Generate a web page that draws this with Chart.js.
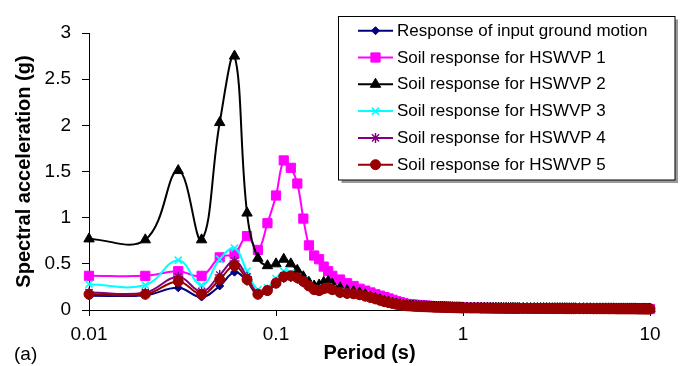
<!DOCTYPE html>
<html>
<head>
<meta charset="utf-8">
<script src="https://cdn.jsdelivr.net/npm/chart.js@4/dist/chart.umd.min.js"></script>
<style>
  html, body { margin: 0; padding: 0; background: #fff; }
  #wrap { width: 680px; height: 366px; position: relative; }
</style>
</head>
<body>
<div id="wrap"><canvas id="c" width="680" height="366"></canvas></div>
<script>
// ---------- DATA ----------
const periods = [
  0.01,0.02,0.03,0.04,0.05,0.06,0.07,0.08,0.09,0.10,
  0.11,0.12,0.13,0.14,0.15,0.16,0.17,0.18,0.19,0.20,
  0.22,0.24,0.26,0.28,0.30,0.32,0.34,0.36,0.38,0.40,0.42,0.44,0.46,0.48,0.50,
  0.52,0.54,0.56,0.58,0.60,0.62,0.64,0.66,0.68,0.70,0.72,0.74,0.76,0.78,0.80,
  0.82,0.84,0.86,0.88,0.90,0.92,0.94,0.96,0.98,1.00,
  1.05,1.10,1.15,1.20,1.25,1.30,1.35,1.40,1.45,1.50,
  1.55,1.60,1.65,1.70,1.75,1.80,1.85,1.90,1.95,2.00,
  2.1,2.2,2.3,2.4,2.5,2.6,2.7,2.8,2.9,3.0,
  3.1,3.2,3.3,3.4,3.5,3.6,3.7,3.8,3.9,4.0,
  4.2,4.4,4.6,4.8,5.0,5.2,5.4,5.6,5.8,6.0,
  6.2,6.4,6.6,6.8,7.0,7.2,7.4,7.6,7.8,8.0,
  8.2,8.4,8.6,8.8,9.0,9.2,9.4,9.6,9.8,10.0
];

const inputMotion = [
  0.155,0.16,0.24,0.14,0.26,0.41,0.31,0.16,0.20,0.28,
  0.34,0.35,0.33,0.29,0.25,0.21,0.20,0.22,0.23,0.21,
  0.18,0.17,0.165,0.155,0.14,0.125,0.11,0.095,0.085,0.075,0.065,0.058,0.052,0.047,0.043,
  0.041,0.039,0.037,0.036,0.035,0.034,0.033,0.032,0.031,0.030,0.029,0.028,0.028,0.027,0.026,
  0.026,0.025,0.025,0.024,0.024,0.023,0.023,0.022,0.022,0.021,
  0.021,0.020,0.020,0.020,0.019,0.019,0.019,0.019,0.018,0.018,
  0.018,0.018,0.017,0.017,0.017,0.017,0.017,0.016,0.016,0.016,
  0.016,0.016,0.015,0.015,0.015,0.015,0.015,0.015,0.014,0.014,
  0.014,0.014,0.014,0.014,0.014,0.013,0.013,0.013,0.013,0.013,
  0.013,0.013,0.013,0.013,0.012,0.012,0.012,0.012,0.012,0.012,
  0.012,0.012,0.011,0.011,0.011,0.011,0.011,0.011,0.011,0.011,
  0.011,0.011,0.010,0.010,0.010,0.010,0.010,0.010,0.010,0.010
];

const hswvp1 = [
  0.37,0.37,0.42,0.37,0.57,0.61,0.80,0.65,0.94,1.24,
  1.62,1.54,1.37,0.99,0.70,0.59,0.55,0.47,0.42,0.37,
  0.33,0.29,0.26,0.23,0.21,0.19,0.17,0.155,0.14,0.125,0.11,0.095,0.085,0.075,0.065,
  0.062,0.059,0.056,0.053,0.050,0.048,0.046,0.044,0.042,0.040,0.038,0.037,0.036,0.035,0.034,
  0.033,0.032,0.031,0.030,0.029,0.029,0.028,0.027,0.026,0.025,
  0.025,0.024,0.024,0.023,0.023,0.022,0.022,0.022,0.021,0.021,
  0.021,0.020,0.020,0.020,0.020,0.019,0.019,0.019,0.019,0.018,
  0.018,0.018,0.018,0.017,0.017,0.017,0.017,0.017,0.016,0.016,
  0.016,0.016,0.016,0.016,0.015,0.015,0.015,0.015,0.015,0.015,
  0.015,0.014,0.014,0.014,0.014,0.014,0.014,0.014,0.013,0.013,
  0.013,0.013,0.013,0.013,0.013,0.013,0.013,0.012,0.012,0.012,
  0.012,0.012,0.012,0.012,0.012,0.012,0.012,0.011,0.011,0.011
];

const hswvp2 = [
  0.77,0.76,1.51,0.76,2.03,2.75,1.05,0.56,0.48,0.50,
  0.55,0.50,0.43,0.36,0.30,0.26,0.27,0.30,0.31,0.28,
  0.24,0.21,0.20,0.185,0.165,0.14,0.125,0.11,0.095,0.085,0.075,0.066,0.058,0.052,0.047,
  0.045,0.043,0.041,0.039,0.037,0.036,0.035,0.034,0.033,0.032,0.031,0.030,0.029,0.029,0.028,
  0.027,0.027,0.026,0.026,0.025,0.025,0.024,0.024,0.023,0.023,
  0.022,0.021,0.021,0.021,0.020,0.020,0.020,0.020,0.019,0.019,
  0.019,0.019,0.018,0.018,0.018,0.018,0.018,0.017,0.017,0.017,
  0.017,0.017,0.016,0.016,0.016,0.016,0.016,0.016,0.015,0.015,
  0.015,0.015,0.015,0.015,0.015,0.014,0.014,0.014,0.014,0.014,
  0.014,0.014,0.014,0.014,0.013,0.013,0.013,0.013,0.013,0.013,
  0.013,0.013,0.012,0.012,0.012,0.012,0.012,0.012,0.012,0.012,
  0.012,0.012,0.011,0.011,0.011,0.011,0.011,0.011,0.011,0.011
];

const hswvp3 = [
  0.28,0.27,0.54,0.27,0.55,0.67,0.42,0.22,0.24,0.34,
  0.42,0.40,0.36,0.32,0.27,0.23,0.22,0.24,0.25,0.23,
  0.20,0.19,0.18,0.17,0.155,0.135,0.12,0.105,0.09,0.08,0.07,0.062,0.055,0.05,0.045,
  0.043,0.041,0.039,0.037,0.036,0.035,0.034,0.033,0.032,0.031,0.030,0.029,0.029,0.028,0.027,
  0.027,0.026,0.026,0.025,0.025,0.024,0.024,0.023,0.023,0.022,
  0.022,0.021,0.021,0.021,0.020,0.020,0.020,0.020,0.019,0.019,
  0.019,0.019,0.018,0.018,0.018,0.018,0.018,0.017,0.017,0.017,
  0.017,0.017,0.016,0.016,0.016,0.016,0.016,0.016,0.015,0.015,
  0.015,0.015,0.015,0.015,0.015,0.014,0.014,0.014,0.014,0.014,
  0.014,0.014,0.014,0.014,0.013,0.013,0.013,0.013,0.013,0.013,
  0.013,0.013,0.012,0.012,0.012,0.012,0.012,0.012,0.012,0.012,
  0.012,0.012,0.011,0.011,0.011,0.011,0.011,0.011,0.011,0.011
];

const hswvp4 = [
  0.19,0.19,0.36,0.20,0.38,0.53,0.36,0.18,0.22,0.30,
  0.37,0.37,0.35,0.31,0.26,0.22,0.21,0.23,0.24,0.22,
  0.19,0.18,0.175,0.165,0.15,0.135,0.12,0.105,0.09,0.08,0.07,0.062,0.055,0.05,0.045,
  0.043,0.041,0.039,0.037,0.036,0.035,0.034,0.033,0.032,0.031,0.030,0.029,0.029,0.028,0.027,
  0.027,0.026,0.026,0.025,0.025,0.024,0.024,0.023,0.023,0.022,
  0.022,0.021,0.021,0.021,0.020,0.020,0.020,0.020,0.019,0.019,
  0.019,0.019,0.018,0.018,0.018,0.018,0.018,0.017,0.017,0.017,
  0.017,0.017,0.016,0.016,0.016,0.016,0.016,0.016,0.015,0.015,
  0.015,0.015,0.015,0.015,0.015,0.014,0.014,0.014,0.014,0.014,
  0.014,0.014,0.014,0.014,0.013,0.013,0.013,0.013,0.013,0.013,
  0.013,0.013,0.012,0.012,0.012,0.012,0.012,0.012,0.012,0.012,
  0.012,0.012,0.011,0.011,0.011,0.011,0.011,0.011,0.011,0.011
];

const hswvp5 = [
  0.17,0.17,0.31,0.17,0.33,0.48,0.33,0.17,0.21,0.29,
  0.36,0.37,0.35,0.31,0.26,0.22,0.21,0.23,0.24,0.22,
  0.19,0.18,0.175,0.165,0.15,0.135,0.12,0.105,0.09,0.08,0.07,0.062,0.055,0.05,0.045,
  0.043,0.041,0.039,0.037,0.036,0.035,0.034,0.033,0.032,0.031,0.030,0.029,0.029,0.028,0.027,
  0.027,0.026,0.026,0.025,0.025,0.024,0.024,0.023,0.023,0.022,
  0.022,0.021,0.021,0.021,0.020,0.020,0.020,0.020,0.019,0.019,
  0.019,0.019,0.018,0.018,0.018,0.018,0.018,0.017,0.017,0.017,
  0.017,0.017,0.016,0.016,0.016,0.016,0.016,0.016,0.015,0.015,
  0.015,0.015,0.015,0.015,0.015,0.014,0.014,0.014,0.014,0.014,
  0.014,0.014,0.014,0.014,0.013,0.013,0.013,0.013,0.013,0.013,
  0.013,0.013,0.012,0.012,0.012,0.012,0.012,0.012,0.012,0.012,
  0.012,0.012,0.011,0.011,0.011,0.011,0.011,0.011,0.011,0.011
];

const seriesLabels = [
  'Response of input ground motion',
  'Soil response for HSWVP 1',
  'Soil response for HSWVP 2',
  'Soil response for HSWVP 3',
  'Soil response for HSWVP 4',
  'Soil response for HSWVP 5'
];
const xTickValues = [0.01, 0.1, 1, 10];
const yTickValues = [0, 0.5, 1, 1.5, 2, 2.5, 3];
const xTitle = 'Period (s)';
const yTitle = 'Spectral acceleration (g)';
const panelLabel = '(a)';

// ---------- STYLE ----------
const FONT = "'Liberation Sans', Arial, Helvetica, sans-serif";
Chart.defaults.font.family = FONT;
Chart.defaults.color = '#000';

const styles = [
  { color: '#000080', pointStyle: 'rectRot', radius: 4,   pbw: 1,   order: 6 },
  { color: '#FF00FF', pointStyle: 'rect',    radius: 6.5, pbw: 1,   order: 5 },
  { color: '#000000', pointStyle: 'triangle',radius: 6,   pbw: 1,   order: 4 },
  { color: '#00FFFF', pointStyle: 'crossRot',radius: 5,   pbw: 1.6, order: 3 },
  { color: '#800080', pointStyle: 'star',    radius: 5,   pbw: 1.4, order: 2 },
  { color: '#990000', pointStyle: 'circle',  radius: 5,   pbw: 1,   order: 1 }
];
const seriesValues = [inputMotion, hswvp1, hswvp2, hswvp3, hswvp4, hswvp5];

const datasets = seriesValues.map((vals, i) => {
  const s = styles[i];
  return {
    label: seriesLabels[i],
    data: periods.map((p, k) => ({ x: p, y: vals[k] })),
    borderColor: s.color,
    backgroundColor: s.color,
    pointBackgroundColor: s.color,
    pointBorderColor: s.color,
    pointStyle: s.pointStyle,
    pointRadius: s.radius,
    pointBorderWidth: s.pbw,
    borderWidth: 2,
    tension: 0.4,
    fill: false,
    clip: false,
    order: s.order
  };
});

const boxLegend = {
  id: 'boxLegend',
  afterDraw(chart) {
    const ctx = chart.ctx;
    ctx.save();
    const L = 338.5, T = 16.5, W = 336.5, H = 163.5;
    ctx.fillStyle = '#9a9a9a';
    ctx.fillRect(L + 3, T + 3, W, H);
    ctx.fillStyle = '#ffffff';
    ctx.fillRect(L, T, W, H);
    ctx.strokeStyle = '#000';
    ctx.lineWidth = 1;
    ctx.strokeRect(L, T, W, H);
    chart.data.datasets.forEach((ds, i) => {
      const y = 30.7 + i * 26.8;
      ctx.strokeStyle = ds.borderColor;
      ctx.lineWidth = 2;
      ctx.beginPath();
      ctx.moveTo(358, y);
      ctx.lineTo(393, y);
      ctx.stroke();
      ctx.fillStyle = ds.pointBackgroundColor;
      ctx.strokeStyle = ds.pointBorderColor;
      ctx.lineWidth = ds.pointBorderWidth;
      Chart.helpers.drawPoint(ctx, {
        pointStyle: ds.pointStyle, radius: ds.pointRadius,
        borderWidth: ds.pointBorderWidth, rotation: 0
      }, 375.5, y);
      ctx.fillStyle = '#000';
      ctx.font = '17px ' + FONT;
      ctx.textBaseline = 'middle';
      ctx.textAlign = 'left';
      ctx.fillText(ds.label, 397, y + 0.5);
    });
    ctx.font = '19px ' + FONT;
    ctx.fillStyle = '#000';
    ctx.textBaseline = 'middle';
    ctx.textAlign = 'left';
    ctx.fillText(panelLabel, 14, 355);
    ctx.restore();
  }
};

new Chart(document.getElementById('c'), {
  type: 'line',
  data: { datasets },
  plugins: [boxLegend],
  options: {
    responsive: false,
    animation: false,
    layout: { padding: { top: 33, right: 30, left: 0, bottom: 0 } },
    plugins: {
      legend: { display: false },
      tooltip: { enabled: false }
    },
    scales: {
      x: {
        type: 'logarithmic',
        position: 'bottom',
        min: 0.01,
        max: 10,
        afterBuildTicks: s => { s.ticks = xTickValues.map(v => ({ value: v })); },
        afterFit: s => { s.height = 56; },
        ticks: {
          autoSkip: false,
          maxRotation: 0,
          padding: 7,
          color: '#000',
          font: { size: 19 },
          callback: v => String(v)
        },
        grid: { display: true, drawOnChartArea: false, drawTicks: true, tickLength: 6, color: '#000', lineWidth: 1 },
        border: { display: true, color: '#000', width: 1 },
        title: {
          display: true, text: xTitle, color: '#000',
          font: { size: 20, weight: 'bold' },
          padding: { top: 0, bottom: 1 }
        }
      },
      y: {
        min: 0,
        max: 3,
        afterBuildTicks: s => { s.ticks = yTickValues.map(v => ({ value: v })); },
        afterFit: s => { s.width = 89; },
        ticks: {
          padding: 11,
          color: '#000',
          font: { size: 19 },
          callback: v => String(v)
        },
        grid: { display: true, drawOnChartArea: false, drawTicks: true, tickLength: 7, color: '#000', lineWidth: 1 },
        border: { display: true, color: '#000', width: 1 },
        title: {
          display: true, text: yTitle, color: '#000',
          font: { size: 20, weight: 'bold' },
          padding: { top: 12, bottom: 0 }
        }
      }
    }
  }
});
</script>
</body>
</html>
